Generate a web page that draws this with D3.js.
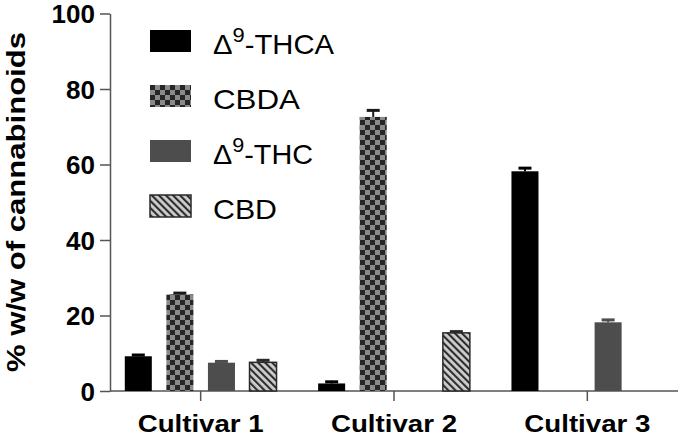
<!DOCTYPE html>
<html>
<head>
<meta charset="utf-8">
<script src="https://cdn.jsdelivr.net/npm/d3@7"></script>
<style>
  body { margin: 0; background: #fff; }
  text { font-family: "Liberation Sans", Arial, sans-serif; }
</style>
</head>
<body>
<div id="chart"></div>
<script>
var w = 680;
var h = 437;

var cultivars = ["Cultivar 1", "Cultivar 2", "Cultivar 3"];
var compounds = ["THCA", "CBDA", "THC", "CBD"];
var thcaVals = [9.2, 2.0, 58.2];
var cbdaVals = [25.6, 72.6, 0];
var thcVals = [7.5, 0, 18.2];
var cbdVals = [7.6, 15.4, 0];
var thcaErr = [0.6, 0.7, 1.1];
var cbdaErr = [0.6, 2.0, 0];
var thcErr = [0.6, 0, 0.9];
var cbdErr = [0.8, 0.6, 0];
var yTicks = [0, 20, 40, 60, 80, 100];

var fills = ["#000", "url(#checker)", "#4d4d4d", "url(#hatch)"];
var errColors = ["#000", "#1a1a1a", "#4d4d4d", "#2a2a2a"];

var rows = [];
cultivars.forEach(function(c, i) {
    [thcaVals, cbdaVals, thcVals, cbdVals].forEach(function(arr, j) {
        var errs = [thcaErr, cbdaErr, thcErr, cbdErr][j];
        rows.push({ cultivar: c, compound: compounds[j], k: j, value: arr[i], err: errs[i] });
    });
});

var svg = d3.select("#chart")
    .append("svg")
    .attr("width", w)
    .attr("height", h);

var defs = svg.append("defs");
var chk = defs.append("pattern")
    .attr("id", "checker")
    .attr("patternUnits", "userSpaceOnUse")
    .attr("width", 10).attr("height", 10);
chk.append("rect").attr("width", 10).attr("height", 10).attr("fill", "#8a8a8a");
chk.append("rect").attr("width", 5).attr("height", 5).attr("fill", "#262626");
chk.append("rect").attr("x", 5).attr("y", 5).attr("width", 5).attr("height", 5).attr("fill", "#262626");

var hat = defs.append("pattern")
    .attr("id", "hatch")
    .attr("patternUnits", "userSpaceOnUse")
    .attr("width", 5).attr("height", 5)
    .attr("patternTransform", "rotate(-45)");
hat.append("rect").attr("width", 5).attr("height", 5).attr("fill", "#cdcdcd");
hat.append("line").attr("x1", 1).attr("y1", 0).attr("x2", 1).attr("y2", 5)
    .attr("stroke", "#2e2e2e").attr("stroke-width", 2.2);

var x0 = d3.scaleBand().domain(cultivars).range([104, 684]);
var x1 = d3.scaleBand().domain(compounds).range([0, x0.bandwidth()])
    .paddingInner(0.35).paddingOuter(0.5);
var y = d3.scaleLinear().domain([0, 100]).range([391, 13.5]);

// axes
var yAxis = svg.append("g")
    .attr("transform", "translate(110,0)")
    .call(d3.axisLeft(y).tickValues(yTicks).tickSize(10).tickSizeOuter(0).tickPadding(5));
yAxis.select(".domain").attr("stroke", "#555").attr("stroke-width", 1.5);
yAxis.selectAll(".tick line").attr("stroke", "#555").attr("stroke-width", 1.5);
yAxis.selectAll(".tick text")
    .attr("fill", "#000")
    .style("font-family", "'Liberation Sans', Arial, sans-serif")
    .style("font-size", "26px").style("font-weight", "bold")
    .attr("dy", "0.36em");

var xAxis = svg.append("g")
    .attr("transform", "translate(0,391)")
    .call(d3.axisBottom(x0).tickSize(10).tickSizeOuter(0).tickPadding(14));
xAxis.select(".domain").remove();
xAxis.selectAll(".tick line").attr("stroke", "#555").attr("stroke-width", 1.5);
xAxis.selectAll(".tick text")
    .attr("fill", "#000")
    .attr("y", 41).attr("dy", 0)
    .style("font-family", "'Liberation Sans', Arial, sans-serif")
    .style("font-size", "24px").style("font-weight", "bold")
    .attr("textLength", 126).attr("lengthAdjust", "spacingAndGlyphs");
svg.append("line")
    .attr("x1", 110).attr("x2", 678)
    .attr("y1", y(0)).attr("y2", y(0))
    .attr("stroke", "#555").attr("stroke-width", 1.5);

// bars
var bars = rows.filter(function(d) { return d.value > 0; });
svg.selectAll("rect.bar")
    .data(bars)
    .enter()
    .append("rect")
    .attr("class", "bar")
    .attr("x", function(d) { return x0(d.cultivar) + x1(d.compound); })
    .attr("y", function(d) { return y(d.value); })
    .attr("width", x1.bandwidth())
    .attr("height", function(d) { return y(0) - y(d.value); })
    .attr("fill", function(d) { return fills[d.k]; })
    .attr("stroke", function(d) { return d.k == 3 ? "#2a2a2a" : "none"; })
    .attr("stroke-width", 1.5);

// error bars (upper only)
svg.selectAll("line.stem")
    .data(bars)
    .enter()
    .append("line")
    .attr("x1", function(d) { return x0(d.cultivar) + x1(d.compound) + x1.bandwidth() / 2; })
    .attr("x2", function(d) { return x0(d.cultivar) + x1(d.compound) + x1.bandwidth() / 2; })
    .attr("y1", function(d) { return y(d.value); })
    .attr("y2", function(d) { return y(d.value + d.err); })
    .attr("stroke", function(d) { return errColors[d.k]; })
    .attr("stroke-width", 2);
svg.selectAll("line.cap")
    .data(bars)
    .enter()
    .append("line")
    .attr("x1", function(d) { return x0(d.cultivar) + x1(d.compound) + x1.bandwidth() / 2 - 6.5; })
    .attr("x2", function(d) { return x0(d.cultivar) + x1(d.compound) + x1.bandwidth() / 2 + 6.5; })
    .attr("y1", function(d) { return y(d.value + d.err) + 1; })
    .attr("y2", function(d) { return y(d.value + d.err) + 1; })
    .attr("stroke", function(d) { return errColors[d.k]; })
    .attr("stroke-width", 3);

// y title
svg.append("text")
    .attr("transform", "translate(25,202) rotate(-90)")
    .attr("text-anchor", "middle")
    .style("font-size", "26px").style("font-weight", "bold")
    .attr("textLength", 340).attr("lengthAdjust", "spacingAndGlyphs")
    .text("% w/w of cannabinoids");

// legend
var legendNames = [["Δ", "9", "-THCA"], ["CBDA"], ["Δ", "9", "-THC"], ["CBD"]];
var legendWidths = [121, 87, 100, 64];
var legendTops = [30, 85, 140, 195];
var lg = svg.selectAll("g.leg")
    .data(legendNames)
    .enter()
    .append("g")
    .attr("class", "leg")
    .attr("transform", function(d, i) { return "translate(150," + legendTops[i] + ")"; });
lg.append("rect")
    .attr("width", 41).attr("height", 22)
    .attr("fill", function(d, i) { return fills[i]; })
    .attr("stroke", function(d, i) { return i == 3 ? "#2a2a2a" : "none"; })
    .attr("stroke-width", 1.5);
lg.each(function(d, i) {
    var t = d3.select(this).append("text")
        .attr("x", 63).attr("y", 24)
        .style("font-size", "28px")
        .attr("textLength", legendWidths[i]).attr("lengthAdjust", "spacingAndGlyphs");
    if (d.length == 3) {
        t.append("tspan").text(d[0]);
        t.append("tspan").attr("dy", -12).style("font-size", "21px").text(d[1]);
        t.append("tspan").attr("dy", 12).text(d[2]);
    } else {
        t.text(d[0]);
    }
});
</script>
</body>
</html>
